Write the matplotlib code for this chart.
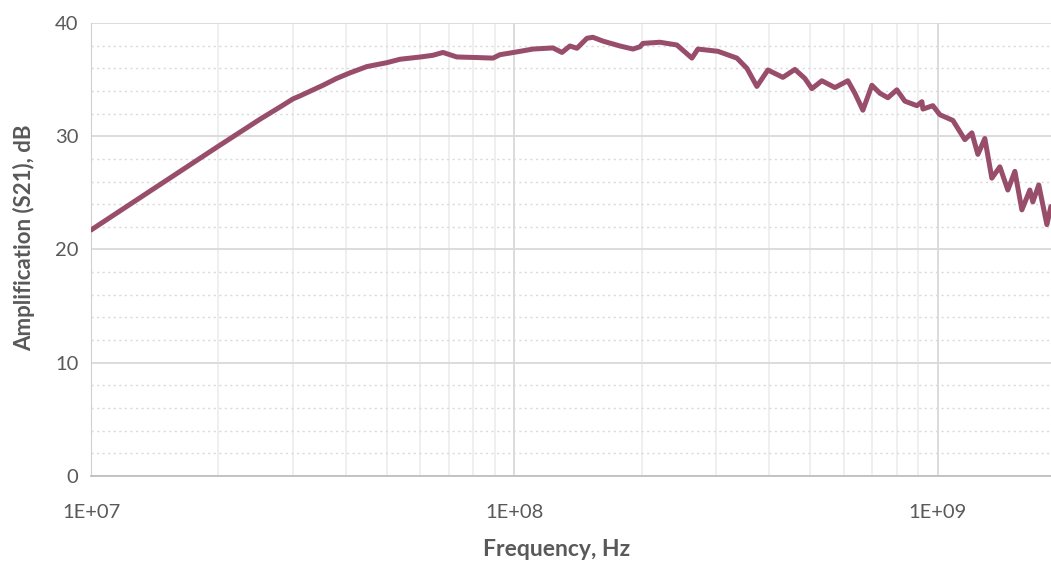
import math
import matplotlib.pyplot as plt
from matplotlib.ticker import FixedLocator, NullFormatter, FuncFormatter

# frequency in Hz and amplification in dB
freq = [1.0e7, 1.378e7, 1.995e7, 2.506e7, 2.8e7, 3.0e7, 3.11e7, 3.53e7, 3.8e7, 4.09e7,
        4.48e7, 5.0e7, 5.37e7, 6.0e7, 6.42e7, 6.78e7, 7.31e7, 8.15e7, 8.90e7, 9.24e7,
        1.014e8, 1.106e8, 1.233e8, 1.295e8, 1.352e8, 1.405e8, 1.483e8, 1.532e8, 1.618e8, 1.775e8,
        1.905e8, 1.979e8, 2.011e8, 2.206e8, 2.419e8, 2.625e8, 2.712e8, 3.024e8, 3.353e8, 3.54e8,
        3.737e8, 3.968e8, 4.305e8, 4.596e8, 4.853e8, 5.04e8, 5.32e8, 5.713e8, 6.13e8, 6.368e8,
        6.651e8, 6.985e8, 7.295e8, 7.62e8, 8.0e8, 8.356e8, 8.922e8, 9.168e8, 9.22e8, 9.73e8,
        1.011e9, 1.085e9, 1.158e9, 1.203e9, 1.243e9, 1.291e9, 1.341e9, 1.401e9, 1.463e9, 1.52e9,
        1.579e9, 1.649e9, 1.676e9, 1.731e9, 1.809e9, 1.849e9]
s21 = [21.72, 25.15, 29.1, 31.5, 32.6, 33.3, 33.55, 34.5, 35.1, 35.6,
       36.15, 36.5, 36.8, 37.0, 37.15, 37.4, 37.0, 36.95, 36.9, 37.2,
       37.45, 37.7, 37.8, 37.4, 37.97, 37.77, 38.65, 38.74, 38.4, 37.97,
       37.7, 37.9, 38.2, 38.3, 38.06, 36.9, 37.7, 37.5, 36.9, 36.0,
       34.4, 35.85, 35.2, 35.9, 35.1, 34.2, 34.9, 34.3, 34.9, 33.8,
       32.3, 34.5, 33.8, 33.4, 34.1, 33.1, 32.7, 33.05, 32.4, 32.7,
       31.9, 31.4, 29.7, 30.3, 28.4, 29.8, 26.3, 27.3, 25.25, 26.9,
       23.5, 25.25, 24.2, 25.7, 22.2, 23.8]

plt.rcParams['font.family'] = ['Lato', 'DejaVu Sans']

fig = plt.figure(figsize=(10.51, 5.61), dpi=100)
ax = fig.add_axes([91 / 1051, 85 / 561, 1 - 91 / 1051, 453 / 561])

ax.plot(freq, s21, color='#984D6B', lw=3.6, solid_joinstyle='round',
        solid_capstyle='round', zorder=3)

ax.set_xscale('log')
ax.set_xlim(1e7, 1.85e9)
ax.set_ylim(0, 40)

ax.xaxis.set_major_locator(FixedLocator([1e7, 1e8, 1e9]))
minors = [m * 10 ** e for e in (7, 8, 9) for m in range(2, 10)]
ax.xaxis.set_minor_locator(FixedLocator(minors))
ax.xaxis.set_minor_formatter(NullFormatter())
ax.xaxis.set_major_formatter(FuncFormatter(lambda v, p: '1E+%02d' % round(math.log10(v))))
ax.set_yticks([0, 10, 20, 30, 40])
ax.set_yticks(range(2, 40, 2), minor=True)

ax.grid(which='major', axis='both', color='#d9d9d9', lw=1.3)
ax.grid(which='minor', axis='x', color='#ececec', lw=1.2)
ax.grid(which='minor', axis='y', color='#d9d9d9', lw=1.0, linestyle=(0, (1.5, 2.5)))
ax.set_axisbelow(True)

for side in ('top', 'right'):
    ax.spines[side].set_visible(False)
ax.spines['left'].set_color('#d0d0d0')
ax.spines['bottom'].set_color('#bfbfbf')
ax.spines['bottom'].set_linewidth(1.3)

ax.tick_params(which='both', length=0, labelsize=14.5, labelcolor='#595959')
ax.tick_params(axis='x', pad=20)
ax.tick_params(axis='y', pad=9)

fig.text(557 / 1051, 12 / 561, 'Frequency, Hz', ha='center', va='center',
         fontsize=16.5, fontweight='bold', color='#595959')
fig.text(24 / 1051, 1 - 238 / 561, 'Amplification (S21), dB', ha='center', va='center',
         rotation=90, fontsize=16, fontweight='bold', color='#595959')

fig.savefig('out.png', dpi=100)
